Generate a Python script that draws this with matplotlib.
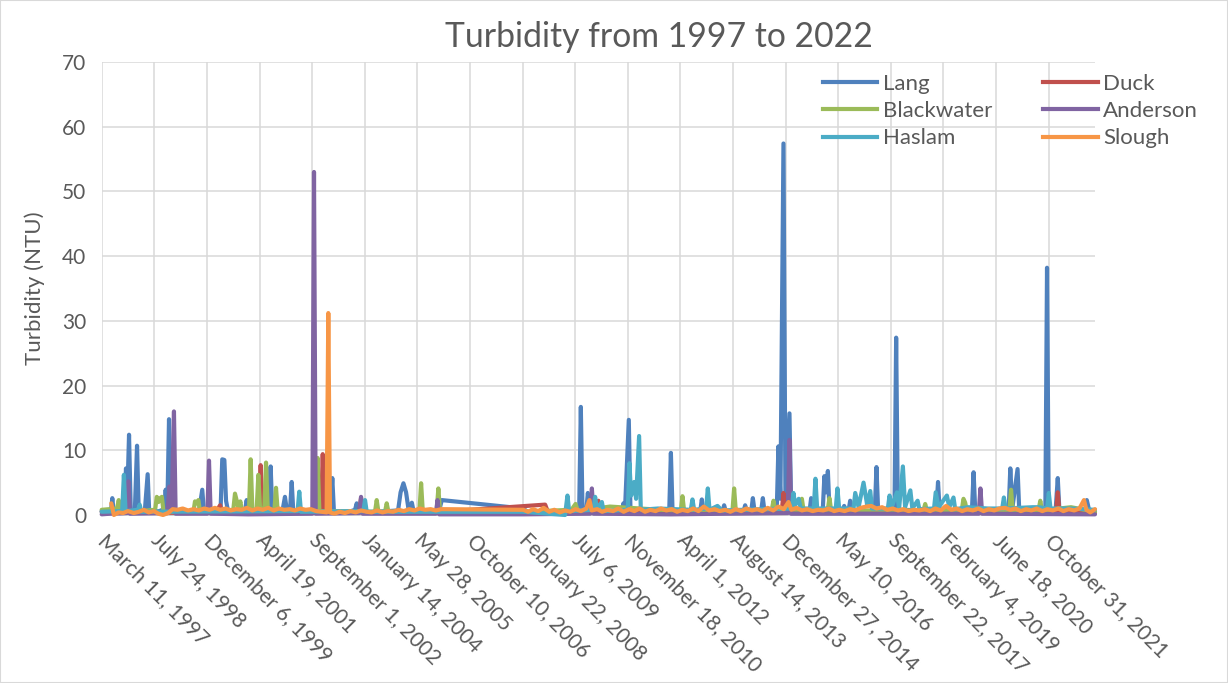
import matplotlib
matplotlib.use("Agg")
import matplotlib.pyplot as plt
from matplotlib.lines import Line2D
from matplotlib.patches import Rectangle
from datetime import datetime

plt.rcParams['font.family'] = ['Lato', 'DejaVu Sans']

TEXT_GREY = '#595959'
GRID_GREY = '#d9d9d9'
LINE_W = 3.0

# turbidity readings (NTU) per creek: (sample date, value)
lang = [
    ("1997-03-11", 0.6), ("1997-04-20", 0.3), ("1997-06-06", 0.4), ("1997-06-20", 2.6),
    ("1997-07-04", 0.4), ("1997-09-10", 0.6), ("1997-10-14", 1.2), ("1997-10-28", 7.2),
    ("1997-11-10", 3.0), ("1997-11-26", 12.4), ("1997-12-12", 0.8), ("1998-01-20", 0.5),
    ("1998-02-10", 10.7), ("1998-02-26", 0.5), ("1998-04-25", 0.6), ("1998-05-22", 6.3),
    ("1998-06-06", 0.4), ("1998-09-10", 0.6), ("1998-10-25", 0.9), ("1998-11-09", 3.9),
    ("1998-11-25", 1.0), ("1998-12-11", 14.8), ("1998-12-27", 0.8), ("1999-04-06", 0.5),
    ("1999-09-22", 0.6), ("1999-10-23", 3.9), ("1999-11-08", 0.5), ("2000-03-05", 0.7),
    ("2000-04-15", 1.2), ("2000-04-30", 8.6), ("2000-05-20", 8.5), ("2000-06-05", 2.2),
    ("2000-06-24", 0.6), ("2000-12-02", 0.6), ("2000-12-18", 2.3), ("2001-01-02", 0.4),
    ("2001-07-18", 0.6), ("2001-08-03", 7.5), ("2001-08-18", 0.6), ("2001-11-25", 0.8),
    ("2001-12-17", 2.8), ("2002-01-05", 0.6), ("2002-02-03", 0.7), ("2002-02-19", 5.1),
    ("2002-03-06", 0.6), ("2002-08-01", 0.5), ("2003-02-20", 0.5), ("2003-03-12", 5.7),
    ("2003-03-28", 0.3), ("2003-08-01", 0.4), ("2003-10-14", 0.8), ("2003-10-30", 1.8),
    ("2003-11-14", 0.5), ("2004-02-20", 0.4), ("2004-11-26", 0.7), ("2004-12-20", 3.5),
    ("2005-01-16", 4.9), ("2005-02-10", 3.5), ("2005-03-07", 0.7), ("2005-04-06", 1.9),
    ("2005-04-22", 0.6), ("2005-12-20", 0.6), ("2006-01-16", 2.3), ("2008-03-01", 1.0),
    ("2008-04-15", 0.4), ("2008-08-20", 0.5), ("2009-02-01", 0.3), ("2009-08-13", 0.5),
    ("2009-08-29", 16.7), ("2009-09-14", 0.5), ("2009-10-20", 0.8), ("2009-11-04", 3.4),
    ("2009-11-20", 0.8), ("2010-03-01", 0.6), ("2010-09-22", 0.5), ("2010-10-08", 1.8),
    ("2010-10-22", 0.5), ("2010-11-28", 14.7), ("2010-12-14", 0.5), ("2011-06-01", 0.5),
    ("2011-12-17", 0.5), ("2012-01-02", 9.6), ("2012-01-18", 0.4), ("2012-07-01", 0.5),
    ("2012-10-06", 0.5), ("2012-10-22", 2.4), ("2012-11-07", 0.5), ("2013-05-06", 0.5),
    ("2013-05-22", 1.5), ("2013-06-07", 0.5), ("2013-11-22", 0.5), ("2013-12-08", 1.5),
    ("2013-12-24", 0.5), ("2014-02-03", 0.5), ("2014-02-19", 2.6), ("2014-03-07", 0.6),
    ("2014-05-09", 0.6), ("2014-05-25", 2.6), ("2014-06-10", 0.5), ("2014-10-04", 0.6),
    ("2014-10-20", 10.6), ("2014-11-08", 2.5), ("2014-12-07", 57.4), ("2014-12-26", 2.0),
    ("2015-02-02", 15.7), ("2015-02-18", 0.8), ("2015-08-11", 0.5), ("2015-08-27", 2.6),
    ("2015-09-12", 0.5), ("2015-12-15", 0.6), ("2015-12-31", 6.0), ("2016-01-17", 3.5),
    ("2016-02-02", 6.8), ("2016-02-18", 0.5), ("2016-06-20", 0.5), ("2016-07-06", 1.4),
    ("2016-07-22", 0.6), ("2016-08-16", 0.6), ("2016-09-01", 2.2), ("2016-09-17", 0.5),
    ("2017-04-23", 0.6), ("2017-05-09", 7.4), ("2017-05-25", 0.5), ("2017-10-27", 0.6),
    ("2017-11-12", 27.4), ("2017-11-28", 0.8), ("2018-11-29", 0.7), ("2018-12-15", 5.1),
    ("2018-12-31", 0.5), ("2019-11-02", 0.6), ("2019-11-18", 6.6), ("2019-12-04", 0.5),
    ("2020-10-16", 0.6), ("2020-11-01", 7.2), ("2020-11-20", 1.0), ("2021-01-09", 7.1),
    ("2021-01-25", 0.6), ("2021-09-30", 0.5), ("2021-10-16", 38.2), ("2021-11-01", 0.6),
    ("2022-01-06", 0.8), ("2022-01-26", 5.7), ("2022-02-11", 0.5), ("2022-10-13", 0.6),
    ("2022-10-29", 2.3), ("2022-11-25", 0.4), ("2023-01-15", 0.4),
]

duck = [
    ("1997-03-11", 0.5), ("1997-09-01", 0.3), ("1998-06-01", 0.4), ("1999-06-01", 0.3),
    ("2000-03-01", 0.5), ("2000-04-10", 1.5), ("2000-04-25", 0.5), ("2001-04-14", 0.6),
    ("2001-04-30", 7.7), ("2001-05-16", 0.6), ("2002-06-01", 0.4), ("2002-11-25", 0.6),
    ("2002-12-11", 9.4), ("2002-12-27", 0.5), ("2003-11-24", 0.5), ("2003-12-10", 2.6),
    ("2003-12-26", 0.4), ("2005-06-01", 0.5), ("2006-01-20", 0.5), ("2008-09-24", 1.6),
    ("2008-10-20", 0.5), ("2010-01-28", 0.5), ("2010-02-12", 2.2), ("2010-02-28", 0.5),
    ("2012-06-01", 0.5), ("2014-11-21", 0.6), ("2014-12-07", 3.4), ("2014-12-23", 0.6),
    ("2017-01-01", 0.5), ("2019-06-01", 0.5), ("2022-01-10", 0.6), ("2022-01-26", 3.5),
    ("2022-02-11", 0.5), ("2023-01-15", 0.4),
]

blackwater = [
    ("1997-03-11", 0.8), ("1997-08-04", 1.0), ("1997-08-20", 2.3), ("1997-09-05", 0.5),
    ("1998-03-01", 0.6), ("1998-08-01", 0.8), ("1998-08-17", 2.8), ("1998-09-02", 2.0),
    ("1998-09-18", 2.6), ("1998-10-04", 2.8), ("1998-10-20", 0.5), ("1999-08-01", 0.6),
    ("1999-08-15", 2.1), ("1999-08-31", 1.8), ("1999-09-16", 2.3), ("1999-10-02", 0.5),
    ("2000-08-13", 0.8), ("2000-08-29", 3.3), ("2000-10-03", 1.0), ("2000-10-19", 2.1),
    ("2000-11-04", 0.5), ("2001-01-09", 0.8), ("2001-01-25", 8.6), ("2001-02-10", 0.8),
    ("2001-03-23", 0.8), ("2001-04-08", 6.2), ("2001-04-24", 1.0), ("2001-06-04", 1.0),
    ("2001-06-20", 8.1), ("2001-07-06", 1.0), ("2001-09-07", 0.6), ("2001-09-23", 4.2),
    ("2001-10-09", 0.5), ("2002-10-08", 0.7), ("2002-10-24", 8.8), ("2002-11-09", 0.6),
    ("2004-04-21", 0.5), ("2004-05-07", 2.3), ("2004-05-23", 0.5), ("2004-07-25", 0.5),
    ("2004-08-10", 1.8), ("2004-08-26", 0.5), ("2005-06-17", 0.6), ("2005-07-03", 4.9),
    ("2005-07-19", 0.5), ("2005-11-28", 0.7), ("2005-12-14", 4.1), ("2005-12-30", 0.5),
    ("2008-03-01", 0.5), ("2009-06-01", 0.8), ("2009-07-10", 1.7), ("2009-08-01", 0.6),
    ("2010-06-01", 1.3), ("2012-04-05", 0.6), ("2012-04-21", 2.9), ("2012-05-07", 0.6),
    ("2013-08-09", 0.6), ("2013-08-25", 4.1), ("2013-09-10", 0.6), ("2014-08-18", 0.8),
    ("2014-09-03", 2.2), ("2014-09-19", 0.8), ("2015-05-15", 0.8), ("2015-05-31", 2.5),
    ("2015-06-16", 0.7), ("2016-02-01", 0.8), ("2016-02-17", 2.6), ("2016-03-04", 0.7),
    ("2018-07-30", 0.7), ("2018-08-15", 1.7), ("2018-08-31", 0.7), ("2019-07-29", 0.8),
    ("2019-08-14", 2.5), ("2019-08-30", 1.9), ("2019-09-15", 0.6), ("2020-10-23", 0.8),
    ("2020-11-08", 3.9), ("2020-11-24", 0.7), ("2021-07-28", 0.8), ("2021-08-13", 2.2),
    ("2021-08-29", 0.7), ("2022-06-01", 1.2), ("2023-01-15", 0.5),
]

anderson = [
    ("1997-03-11", 0.1), ("1997-06-01", 0.2), ("1997-11-03", 0.3), ("1997-11-19", 5.2),
    ("1997-12-05", 0.2), ("1998-11-25", 0.3), ("1998-12-15", 4.4), ("1999-01-05", 1.0),
    ("1999-01-27", 16.0), ("1999-02-12", 0.2), ("1999-12-10", 0.2), ("1999-12-26", 8.4),
    ("2000-01-11", 0.2), ("2001-01-01", 0.1), ("2002-09-03", 0.2), ("2002-09-19", 53.0),
    ("2002-10-05", 0.2), ("2003-11-24", 0.3), ("2003-12-10", 2.8), ("2003-12-26", 0.2),
    ("2005-11-20", 0.2), ("2005-12-06", 2.3), ("2005-12-22", 0.1), ("2008-03-01", 0.1),
    ("2009-11-26", 0.2), ("2009-12-12", 4.1), ("2009-12-28", 0.2), ("2012-01-01", 0.1),
    ("2015-01-17", 0.3), ("2015-02-02", 11.6), ("2015-02-18", 0.2), ("2020-01-06", 0.2),
    ("2020-01-22", 4.1), ("2020-02-07", 0.2), ("2023-01-15", 0.1),
]

haslam = [
    ("1997-03-11", 0.5), ("1997-09-22", 0.6), ("1997-10-08", 6.2), ("1997-10-24", 0.6),
    ("1998-02-20", 0.8), ("1998-03-07", 1.6), ("1998-03-23", 0.5), ("2002-04-16", 0.6),
    ("2002-05-02", 3.6), ("2002-05-18", 0.5), ("2004-01-01", 0.6), ("2004-01-17", 2.3),
    ("2004-02-02", 0.5), ("2008-03-01", 0.5), ("2009-04-01", 0.0), ("2009-04-24", 3.0),
    ("2009-05-10", 0.6), ("2009-12-27", 0.8), ("2010-01-12", 2.8), ("2010-01-28", 1.0),
    ("2010-03-17", 2.0), ("2010-04-02", 0.6), ("2010-11-18", 0.8), ("2010-12-04", 8.0),
    ("2010-12-20", 3.0), ("2011-01-18", 5.1), ("2011-02-05", 2.5), ("2011-03-06", 12.2),
    ("2011-03-22", 0.8), ("2011-09-01", 1.0), ("2012-07-09", 0.8), ("2012-07-25", 2.4),
    ("2012-08-10", 0.8), ("2012-12-02", 1.0), ("2012-12-18", 4.1), ("2013-01-03", 0.8),
    ("2013-03-20", 1.4), ("2013-05-01", 0.7), ("2014-06-01", 0.9), ("2015-02-24", 1.0),
    ("2015-03-12", 3.4), ("2015-03-28", 1.5), ("2015-05-01", 2.5), ("2015-05-20", 1.0),
    ("2015-09-21", 1.0), ("2015-10-07", 5.6), ("2015-10-23", 1.0), ("2016-04-17", 1.0),
    ("2016-05-03", 4.1), ("2016-05-19", 1.0), ("2016-10-03", 1.0), ("2016-10-19", 3.4),
    ("2016-11-20", 1.2), ("2017-01-06", 5.0), ("2017-02-10", 1.5), ("2017-03-11", 3.7),
    ("2017-03-27", 1.0), ("2017-08-25", 1.0), ("2017-09-10", 3.0), ("2017-10-01", 1.2),
    ("2017-11-19", 3.5), ("2017-12-10", 1.0), ("2018-01-15", 7.5), ("2018-02-05", 1.2),
    ("2018-03-27", 3.8), ("2018-04-15", 1.0), ("2018-06-04", 2.2), ("2018-06-20", 0.9),
    ("2018-11-07", 1.0), ("2018-11-23", 3.5), ("2018-12-20", 1.2), ("2019-03-09", 3.0),
    ("2019-04-01", 1.2), ("2019-05-11", 2.7), ("2019-05-27", 0.9), ("2019-10-01", 1.2),
    ("2020-04-01", 1.0), ("2020-08-16", 1.0), ("2020-09-01", 2.7), ("2020-09-17", 1.0),
    ("2021-06-01", 1.2), ("2021-08-01", 1.2), ("2021-10-17", 1.0), ("2021-11-02", 3.4),
    ("2021-11-18", 1.0), ("2022-06-01", 1.0), ("2023-01-15", 0.8),
]

slough = [
    ("1997-06-10", 1.8), ("1997-07-05", 0.0), ("1997-08-20", 0.4), ("1997-10-01", 0.3),
    ("1997-11-15", 0.6), ("1998-01-10", 0.3), ("1998-03-01", 0.5), ("1998-04-15", 0.8),
    ("1998-06-01", 0.4), ("1998-07-20", 0.6), ("1998-09-01", 0.2), ("1998-10-15", 0.0),
    ("1998-12-01", 0.3), ("1999-01-15", 0.9), ("1999-03-01", 0.8), ("1999-04-20", 1.0),
    ("1999-06-10", 0.7), ("1999-08-01", 0.9), ("1999-09-20", 0.7), ("1999-11-10", 1.0),
    ("2000-01-01", 0.8), ("2000-02-20", 1.1), ("2000-04-10", 0.8), ("2000-06-01", 1.0),
    ("2000-07-20", 0.7), ("2000-09-10", 0.9), ("2000-11-01", 0.8), ("2000-12-20", 1.1),
    ("2001-02-10", 0.7), ("2001-04-01", 1.0), ("2001-05-20", 0.8), ("2001-07-10", 1.1),
    ("2001-09-01", 0.7), ("2001-10-20", 1.0), ("2001-12-10", 0.8), ("2002-02-01", 0.9),
    ("2002-03-20", 0.7), ("2002-05-10", 1.0), ("2002-07-01", 0.8), ("2002-08-20", 0.9),
    ("2002-10-10", 0.6), ("2002-12-01", 0.5), ("2003-01-17", 0.4), ("2003-02-02", 31.2),
    ("2003-02-18", 0.4), ("2003-04-01", 0.2), ("2003-05-20", 0.5), ("2003-07-10", 0.3),
    ("2003-09-01", 0.6), ("2003-10-20", 0.4), ("2003-12-10", 0.7), ("2004-02-01", 0.5),
    ("2004-03-20", 0.4), ("2004-05-10", 0.7), ("2004-07-01", 0.4), ("2004-08-20", 0.6),
    ("2004-10-10", 0.5), ("2004-12-01", 0.8), ("2005-01-20", 0.6), ("2005-03-10", 0.9),
    ("2005-05-01", 0.7), ("2005-06-20", 1.0), ("2005-08-10", 0.8), ("2005-10-01", 0.9),
    ("2005-11-20", 0.7), ("2006-01-10", 0.9), ("2008-03-01", 0.8), ("2008-04-15", 0.5),
    ("2008-06-01", 0.9), ("2008-07-20", 0.6), ("2008-09-10", 1.1), ("2008-11-01", 0.5),
    ("2008-12-20", 0.8), ("2009-02-10", 0.4), ("2009-04-01", 0.7), ("2009-05-20", 0.5),
    ("2009-07-10", 0.9), ("2009-08-30", 0.6), ("2009-10-20", 1.0), ("2009-11-19", 2.3),
    ("2009-12-10", 0.7), ("2010-02-01", 0.9), ("2010-03-20", 0.5), ("2010-05-10", 0.8),
    ("2010-07-01", 0.6), ("2010-08-20", 1.0), ("2010-10-10", 0.5), ("2010-12-01", 0.9),
    ("2011-01-20", 0.6), ("2011-03-10", 1.0), ("2011-05-01", 0.5), ("2011-06-20", 0.8),
    ("2011-08-10", 0.6), ("2011-10-01", 1.0), ("2011-11-20", 0.7), ("2012-01-10", 0.9),
    ("2012-03-01", 0.5), ("2012-04-20", 0.8), ("2012-06-10", 0.6), ("2012-08-01", 1.0),
    ("2012-09-20", 0.6), ("2012-11-10", 1.3), ("2012-12-30", 0.7), ("2013-02-20", 0.9),
    ("2013-04-10", 0.6), ("2013-06-01", 0.8), ("2013-07-20", 0.5), ("2013-09-10", 0.9),
    ("2013-11-01", 0.6), ("2013-12-20", 1.0), ("2014-02-10", 0.7), ("2014-04-01", 0.9),
    ("2014-05-20", 0.6), ("2014-07-10", 1.1), ("2014-09-01", 0.7), ("2014-10-20", 1.3),
    ("2014-12-10", 0.9), ("2015-01-24", 2.0), ("2015-02-20", 0.8), ("2015-04-10", 1.1),
    ("2015-06-01", 0.7), ("2015-07-20", 0.9), ("2015-09-10", 0.6), ("2015-11-01", 0.8),
    ("2015-12-20", 0.7), ("2016-02-10", 1.0), ("2016-04-01", 0.6), ("2016-05-20", 0.8),
    ("2016-07-10", 0.6), ("2016-09-01", 0.9), ("2016-10-20", 0.7), ("2016-12-10", 1.1),
    ("2017-02-01", 1.3), ("2017-03-20", 1.4), ("2017-05-10", 1.0), ("2017-07-01", 1.2),
    ("2017-08-20", 0.8), ("2017-10-10", 1.0), ("2017-12-01", 0.7), ("2018-01-20", 0.9),
    ("2018-03-10", 0.6), ("2018-05-01", 0.8), ("2018-06-20", 0.7), ("2018-08-10", 0.9),
    ("2018-10-01", 0.6), ("2018-11-20", 1.0), ("2019-01-10", 0.7), ("2019-03-01", 1.4),
    ("2019-04-20", 0.8), ("2019-06-10", 1.0), ("2019-08-01", 0.6), ("2019-09-20", 0.9),
    ("2019-11-10", 0.7), ("2020-01-01", 1.0), ("2020-02-20", 0.6), ("2020-04-10", 0.9),
    ("2020-06-01", 0.7), ("2020-07-20", 1.0), ("2020-09-10", 1.1), ("2020-11-01", 0.8),
    ("2020-12-20", 1.0), ("2021-02-10", 0.6), ("2021-04-01", 0.9), ("2021-05-20", 0.7),
    ("2021-07-10", 1.0), ("2021-09-01", 0.6), ("2021-10-20", 0.9), ("2021-12-10", 0.7),
    ("2022-02-01", 1.0), ("2022-03-20", 0.6), ("2022-05-10", 0.9), ("2022-07-01", 0.7),
    ("2022-08-20", 1.0), ("2022-10-02", 2.3), ("2022-10-25", 0.8), ("2022-12-01", 0.4),
    ("2023-01-15", 0.9),
]

tick_labels = [
    "March 11, 1997", "July 24, 1998", "December 6, 1999", "April 19, 2001",
    "September 1, 2002", "January 14, 2004", "May 28, 2005", "October 10, 2006",
    "February 22, 2008", "July 6, 2009", "November 18, 2010", "April 1, 2012",
    "August 14, 2013", "December 27, 2014", "May 10, 2016", "September 22, 2017",
    "February 4, 2019", "June 18, 2020", "October 31, 2021",
]

# drawing order (Slough ends up on top)
series = [
    ("Lang", lang, '#4f81bd'),
    ("Duck", duck, '#c0504d'),
    ("Blackwater", blackwater, '#9bbb59'),
    ("Anderson", anderson, '#8064a2'),
    ("Haslam", haslam, '#4bacc6'),
    ("Slough", slough, '#f79646'),
]


def to_dates(rows):
    return [datetime.strptime(d, "%Y-%m-%d") for d, _ in rows], [v for _, v in rows]


fig = plt.figure(figsize=(12.28, 6.83), dpi=100)
ax = fig.add_axes([0.0828, 0.246, 0.8089, 0.6633])

colors = {}
for name, rows, color in series:
    x, y = to_dates(rows)
    ax.plot(x, y, color=color, linewidth=LINE_W, solid_joinstyle='round',
            solid_capstyle='round', clip_on=False, zorder=3)
    colors[name] = color

ax.set_xlim(datetime(1997, 3, 11), datetime(2023, 1, 15))
ax.set_ylim(0, 70)
ax.set_yticks(range(0, 71, 10))

tick_dates = [datetime.strptime(t, "%B %d, %Y") for t in tick_labels]
ax.set_xticks(tick_dates)
ax.set_xticklabels(tick_labels, rotation=-45, ha='left', va='center',
                   rotation_mode='anchor')

ax.grid(True, color=GRID_GREY, linewidth=1.1, zorder=0)
ax.set_axisbelow(True)
for side in ['top', 'right', 'left']:
    ax.spines[side].set_visible(False)
ax.spines['bottom'].set_color('#c8c8c8')
ax.spines['bottom'].set_linewidth(1.2)
ax.tick_params(axis='both', length=0, labelsize=15, colors=TEXT_GREY)
ax.tick_params(axis='x', pad=16)
ax.tick_params(axis='y', pad=11)

ax.set_ylabel("Turbidity (NTU)", fontsize=16, color=TEXT_GREY, labelpad=12)
fig.text(0.537, 0.946, "Turbidity from 1997 to 2022", ha='center', va='center',
         fontsize=24.3, color=TEXT_GREY)

order = ["Lang", "Blackwater", "Haslam", "Duck", "Anderson", "Slough"]
leg_handles = [Line2D([0], [0], color=colors[n], linewidth=LINE_W) for n in order]
fig.legend(leg_handles, order, ncol=2, loc='upper left', bbox_to_anchor=(0.670, 0.892),
           frameon=False, fontsize=16, handlelength=2.45, handletextpad=0.25,
           columnspacing=2.3, labelspacing=0.33, borderpad=0, borderaxespad=0,
           labelcolor=TEXT_GREY)

fig.patches.append(Rectangle((0, 0), 1, 1, transform=fig.transFigure, fill=False,
                             edgecolor=GRID_GREY, linewidth=1.5))

fig.savefig("out.png", dpi=100)
